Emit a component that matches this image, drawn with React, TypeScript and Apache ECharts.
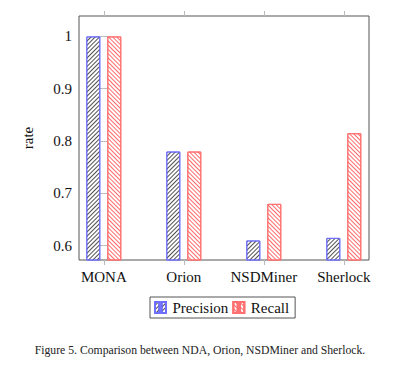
import React, { useEffect, useRef } from "react";
import * as echarts from "echarts";

const categories = ["MONA", "Orion", "NSDMiner", "Sherlock"];
const precision = [1.0, 0.78, 0.61, 0.615];
const recall = [1.0, 0.78, 0.68, 0.815];
const yTicks = [0.6, 0.7, 0.8, 0.9, 1.0];
const caption = "Figure 5. Comparison between NDA, Orion, NSDMiner and Sherlock.";

const SERIF = "Liberation Serif";
const catIdx = categories.map((_, i) => i);

export default function App() {
  const ref = useRef<HTMLDivElement>(null);
  useEffect(() => {
    if (!ref.current) return;
    const chart = echarts.init(ref.current, null, { renderer: "svg" });
    const tickGray = "#bbbbbb";
    const iconPath = "path://M0,0h4v10h-4zM6,0h4v10h-4z";
    const labelStyle = { fontFamily: SERIF, fontSize: 15, color: "#111" };
    chart.setOption({
      animation: false,
      backgroundColor: "#ffffff",
      textStyle: { fontFamily: SERIF },
      grid: {
        left: 79,
        top: 16,
        width: 290,
        height: 244,
        show: true,
        borderColor: "#555555",
        borderWidth: 1,
        backgroundColor: "transparent",
      },
      legend: {
        data: [
          { name: "Precision", icon: iconPath },
          { name: "Recall", icon: iconPath },
        ],
        left: 150,
        top: 297,
        orient: "horizontal",
        borderColor: "#555555",
        borderWidth: 1,
        padding: [3, 6, 3, 4],
        itemGap: 4,
        itemWidth: 14,
        itemHeight: 11,
        textStyle: labelStyle,
      },
      xAxis: [
        {
          type: "value",
          min: -0.31,
          max: 3.315,
          position: "bottom",
          splitLine: { show: false },
          axisLine: { show: false },
          axisTick: {
            show: true,
            inside: false,
            length: 5,
            customValues: catIdx,
            lineStyle: { color: tickGray },
          },
          axisLabel: {
            customValues: catIdx,
            formatter: (v: number) => categories[Math.round(v)] ?? "",
            ...labelStyle,
            margin: 9,
          },
        },
        {
          type: "value",
          min: -0.31,
          max: 3.315,
          position: "top",
          splitLine: { show: false },
          axisLine: { show: false },
          axisTick: {
            show: true,
            inside: false,
            length: 5,
            customValues: catIdx,
            lineStyle: { color: tickGray },
          },
          axisLabel: { show: false },
        },
      ],
      yAxis: [
        {
          type: "value",
          min: 0.5727,
          max: 1.039,
          position: "left",
          name: "rate",
          nameLocation: "middle",
          nameGap: 44,
          nameRotate: 90,
          nameTextStyle: labelStyle,
          splitLine: { show: false },
          axisLine: { show: false },
          axisTick: {
            show: true,
            inside: true,
            length: 7,
            customValues: yTicks,
            lineStyle: { color: tickGray },
          },
          axisLabel: {
            customValues: yTicks,
            formatter: (v: number) => String(Number(v.toFixed(1))),
            ...labelStyle,
            margin: 7,
          },
        },
        {
          type: "value",
          min: 0.5727,
          max: 1.039,
          position: "right",
          splitLine: { show: false },
          axisLine: { show: false },
          axisTick: {
            show: true,
            inside: true,
            length: 7,
            customValues: yTicks,
            lineStyle: { color: tickGray },
          },
          axisLabel: { show: false },
        },
      ],
      graphic: [
        {
          type: "text",
          left: "center",
          top: 344,
          style: {
            text: caption,
            fontFamily: SERIF,
            fontSize: 11.7,
            fill: "#222",
          },
        },
      ],
      series: [
        {
          name: "Precision",
          type: "bar",
          xAxisIndex: 0,
          yAxisIndex: 0,
          barWidth: 14,
          barGap: "50%",
          data: precision.map((v, i) => [i, v]),
          itemStyle: {
            color: "#ffffff",
            borderColor: "#6f6fff",
            borderWidth: 1,
            decal: {
              symbol: "rect",
              symbolSize: 1,
              dashArrayX: [1, 0],
              dashArrayY: [1, 2],
              rotation: -Math.PI / 4,
              color: "rgba(50,50,50,0.85)",
            },
          },
        },
        {
          name: "Recall",
          type: "bar",
          xAxisIndex: 0,
          yAxisIndex: 0,
          barWidth: 14,
          barGap: "50%",
          data: recall.map((v, i) => [i, v]),
          itemStyle: {
            color: "#ffffff",
            borderColor: "#ff6f6f",
            borderWidth: 1,
            decal: {
              symbol: "rect",
              symbolSize: 1,
              dashArrayX: [1, 0],
              dashArrayY: [1, 2],
              rotation: Math.PI / 4,
              color: "rgba(255,90,90,0.9)",
            },
          },
        },
      ],
    });
    return () => chart.dispose();
  }, []);
  return (
    <div
      ref={ref}
      style={{ position: "fixed", left: 0, top: 0, width: 400, height: 367 }}
    />
  );
}
